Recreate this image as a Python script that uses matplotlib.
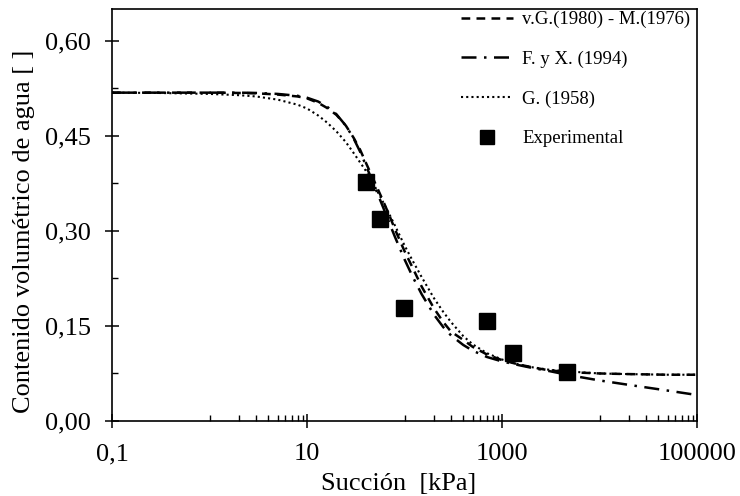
import matplotlib
matplotlib.use("Agg")
import matplotlib.pyplot as plt
from matplotlib.ticker import FixedLocator, FixedFormatter, FuncFormatter

plt.rcParams['font.family'] = ['Liberation Serif', 'DejaVu Serif']

# Suction grid (kPa) at which curves were read
suction = [0.1, 0.3, 1, 2, 3, 5, 8, 10, 13, 16, 20, 25, 30, 35, 40, 50, 60, 70, 80,
           100, 120, 150, 200, 250, 300, 400, 500, 700, 1000, 1500, 2000, 3000,
           5000, 10000, 20000, 50000, 100000]

# van Genuchten (1980) - Mualem (1976)
theta_vg = [0.518, 0.518, 0.518, 0.5175, 0.517, 0.515, 0.512, 0.509, 0.502, 0.494,
            0.483, 0.466, 0.447, 0.428, 0.408, 0.375, 0.348, 0.324, 0.302,
            0.268, 0.243, 0.212, 0.178, 0.156, 0.141, 0.128, 0.117, 0.105, 0.096,
            0.089, 0.085, 0.080, 0.077, 0.075, 0.074, 0.073, 0.073]

# Fredlund y Xing (1994)
theta_fx = [0.518, 0.518, 0.518, 0.518, 0.5175, 0.516, 0.513, 0.510, 0.504, 0.496,
            0.484, 0.466, 0.446, 0.425, 0.404, 0.368, 0.338, 0.312, 0.290,
            0.255, 0.229, 0.200, 0.168, 0.148, 0.135, 0.120, 0.111, 0.101, 0.094,
            0.088, 0.084, 0.079, 0.072, 0.064, 0.057, 0.048, 0.041]

# Gardner (1958)
theta_g = [0.518, 0.5175, 0.516, 0.514, 0.512, 0.507, 0.499, 0.493, 0.482, 0.471,
           0.457, 0.440, 0.423, 0.408, 0.395, 0.369, 0.346, 0.326, 0.308,
           0.277, 0.254, 0.227, 0.194, 0.172, 0.156, 0.134, 0.121, 0.107, 0.097,
           0.089, 0.085, 0.081, 0.078, 0.075, 0.074, 0.073, 0.073]

# Experimental points
exp_suction = [40, 56, 99, 697, 1306, 4600]
exp_theta = [0.377, 0.319, 0.179, 0.158, 0.107, 0.077]

labels = ['v.G.(1980) - M.(1976)', 'F. y X. (1994)', 'G. (1958)', 'Experimental']

x_major = [0.1, 10, 1000, 100000]
x_major_labels = ['0,1', '10', '1000', '100000']
y_major = [0.0, 0.15, 0.30, 0.45, 0.60]

fig = plt.figure(figsize=(7.4, 4.96), dpi=100)
ax = fig.add_axes([0.1514, 0.1512, 0.7905, 0.8307])

ax.plot(suction, theta_vg, color='black', lw=1.8, linestyle=(0, (3.5, 2.5)), label=labels[0])
ax.plot(suction, theta_fx, color='black', lw=1.8, linestyle=(0, (6, 3, 1, 3)), label=labels[1])
ax.plot(suction, theta_g, color='black', lw=1.5, linestyle=(0, (1, 1.5)), label=labels[2])
ax.plot(exp_suction, exp_theta, linestyle='none', marker='s', markersize=12,
        color='black', label=labels[3])

ax.set_xscale('log')
ax.set_xlim(0.1, 100000)
ax.set_ylim(0, 0.65)

ax.xaxis.set_major_locator(FixedLocator(x_major))
ax.xaxis.set_major_formatter(FixedFormatter(x_major_labels))
minors = []
for base in [1, 100, 10000]:
    minors += [base * k for k in range(1, 10)]
ax.xaxis.set_minor_locator(FixedLocator(minors))
ax.xaxis.set_minor_formatter(FixedFormatter([''] * len(minors)))

ax.yaxis.set_major_locator(FixedLocator(y_major))
ax.yaxis.set_major_formatter(FuncFormatter(lambda v, p: f"{v:.2f}".replace('.', ',')))
ax.yaxis.set_minor_locator(FixedLocator([0.075, 0.225, 0.375, 0.525]))

ax.tick_params(which='major', direction='inout', length=10, width=1.1, labelsize=19)
ax.tick_params(axis='y', which='major', pad=10)
ax.tick_params(axis='x', which='major', pad=11)
ax.tick_params(which='minor', direction='in', length=4, width=1.0)
for s in ax.spines.values():
    s.set_linewidth(1.2)

ax.set_xlabel('Succión  [kPa]', fontsize=19)
ax.xaxis.set_label_coords(0.49, -0.127)
ax.set_ylabel('Contenido volumétrico de agua [ ]', fontsize=19)
ax.yaxis.set_label_coords(-0.132, 0.46)

leg = ax.legend(loc='upper right', frameon=False, fontsize=13.5, handlelength=2.8,
                handletextpad=0.5, labelspacing=1.2, borderaxespad=0.1,
                markerscale=0.8, bbox_to_anchor=(1.005, 1.018))

fig.savefig('out.png', dpi=100)
